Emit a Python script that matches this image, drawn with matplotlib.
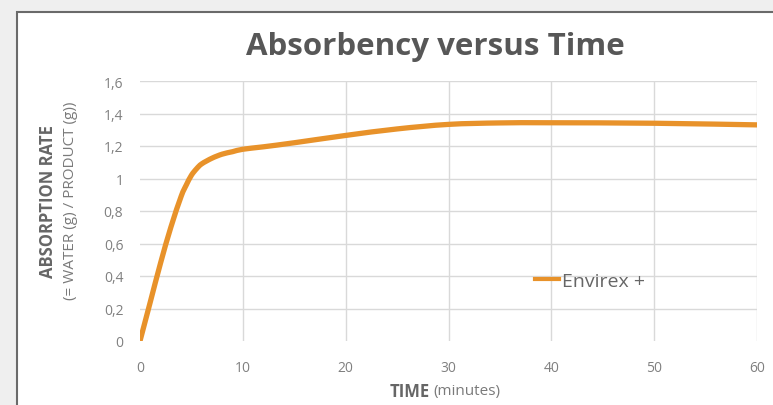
import numpy as np
import matplotlib
matplotlib.use('Agg')
import matplotlib.pyplot as plt
from matplotlib.patches import Rectangle, PathPatch
from matplotlib.path import Path
from matplotlib.lines import Line2D
from matplotlib.ticker import FuncFormatter

# Data (minutes -> g water / g product)
time_min = [0, 1, 2, 3, 4, 4.5, 5, 5.5, 6, 7, 8, 9, 10, 12, 15, 20, 25, 30, 35, 40, 50, 60]
absorption = [0.0, 0.24, 0.48, 0.70, 0.89, 0.96, 1.02, 1.06, 1.09, 1.125, 1.15, 1.165, 1.18,
              1.195, 1.22, 1.265, 1.305, 1.333, 1.342, 1.343, 1.34, 1.33]
series_name = 'Envirex +'
x_ticks = [0, 10, 20, 30, 40, 50, 60]
y_ticks = [0, 0.2, 0.4, 0.6, 0.8, 1.0, 1.2, 1.4, 1.6]
LINE_COLOR = '#e8922a'


def smooth_path(xs, ys):
    """Catmull-Rom style bezier path through the points (like Excel's smoothed line)."""
    pts = np.column_stack([xs, ys]).astype(float)
    verts = [pts[0]]
    codes = [Path.MOVETO]
    for i in range(len(pts) - 1):
        p0 = pts[i - 1] if i > 0 else pts[i]
        p1, p2 = pts[i], pts[i + 1]
        p3 = pts[i + 2] if i + 2 < len(pts) else pts[i + 1]
        verts += [p1 + (p2 - p0) / 6, p2 - (p3 - p1) / 6, p2]
        codes += [Path.CURVE4] * 3
    return Path(verts, codes)


plt.rcParams['font.family'] = ['Open Sans', 'DejaVu Sans']

W, H = 773, 406
fig = plt.figure(figsize=(W / 100, H / 100), dpi=100)
fig.patch.set_facecolor('#efefef')

# white chart box with dark border on left/top
box = Rectangle((17 / W, -0.05), 1.1, 1 - 13 / H + 0.05, transform=fig.transFigure,
                facecolor='white', edgecolor='#6a6a6a', linewidth=1.5, zorder=-10)
fig.patches.append(box)

ax = fig.add_axes([140 / W, (H - 342) / H, 617 / W, 260 / H])
ax.set_zorder(2)
ax.set_facecolor('none')
ax.add_patch(PathPatch(smooth_path(time_min, absorption), facecolor='none', edgecolor=LINE_COLOR,
                       linewidth=3.8, capstyle='round', joinstyle='round', zorder=3))

ax.set_xlim(0, 60)
ax.set_ylim(0, 1.6)
ax.set_xticks(x_ticks)
ax.set_yticks(y_ticks)
ax.yaxis.set_major_formatter(FuncFormatter(lambda v, p: ('%g' % round(v, 1)).replace('.', ',')))
ax.tick_params(length=0, colors='#808080', labelsize=10)
ax.tick_params(axis='x', pad=14)
ax.tick_params(axis='y', pad=12)
for s in ax.spines.values():
    s.set_visible(False)
ax.grid(True, color='#d9d9d9', linewidth=1)
ax.xaxis.get_gridlines()[0].set_visible(False)
ax.yaxis.get_gridlines()[0].set_visible(False)

fig.text(435 / W, 1 - 47 / H, 'Absorbency versus Time', ha='center', va='center',
         fontsize=22.5, fontweight='bold', color='#575757')

fig.text(48 / W, 1 - 202 / H, 'ABSORPTION RATE', rotation=90, ha='center', va='center',
         fontsize=12, fontweight='bold', color='#666666')
fig.text(71 / W, 1 - 201 / H, '(= WATER (g) / PRODUCT (g))', rotation=90, ha='center', va='center',
         fontsize=11, color='#7a7a7a')

fig.text(430 / W, 1 - 392 / H, 'TIME', ha='right', va='center', fontsize=12,
         fontweight='bold', color='#666666')
fig.text(433 / W, 1 - 392 / H, '(minutes)', ha='left', va='center', fontsize=11, color='#7a7a7a')

handle = Line2D([], [], color=LINE_COLOR, linewidth=3)
leg = ax.legend([handle], [series_name], loc='center left', bbox_to_anchor=(0.641, 0.231),
                frameon=False, handlelength=1.2, handletextpad=0.15, borderpad=0,
                borderaxespad=0, fontsize=14)
for t in leg.get_texts():
    t.set_color('#666666')

fig.savefig('out.png', dpi=100, facecolor=fig.get_facecolor())
